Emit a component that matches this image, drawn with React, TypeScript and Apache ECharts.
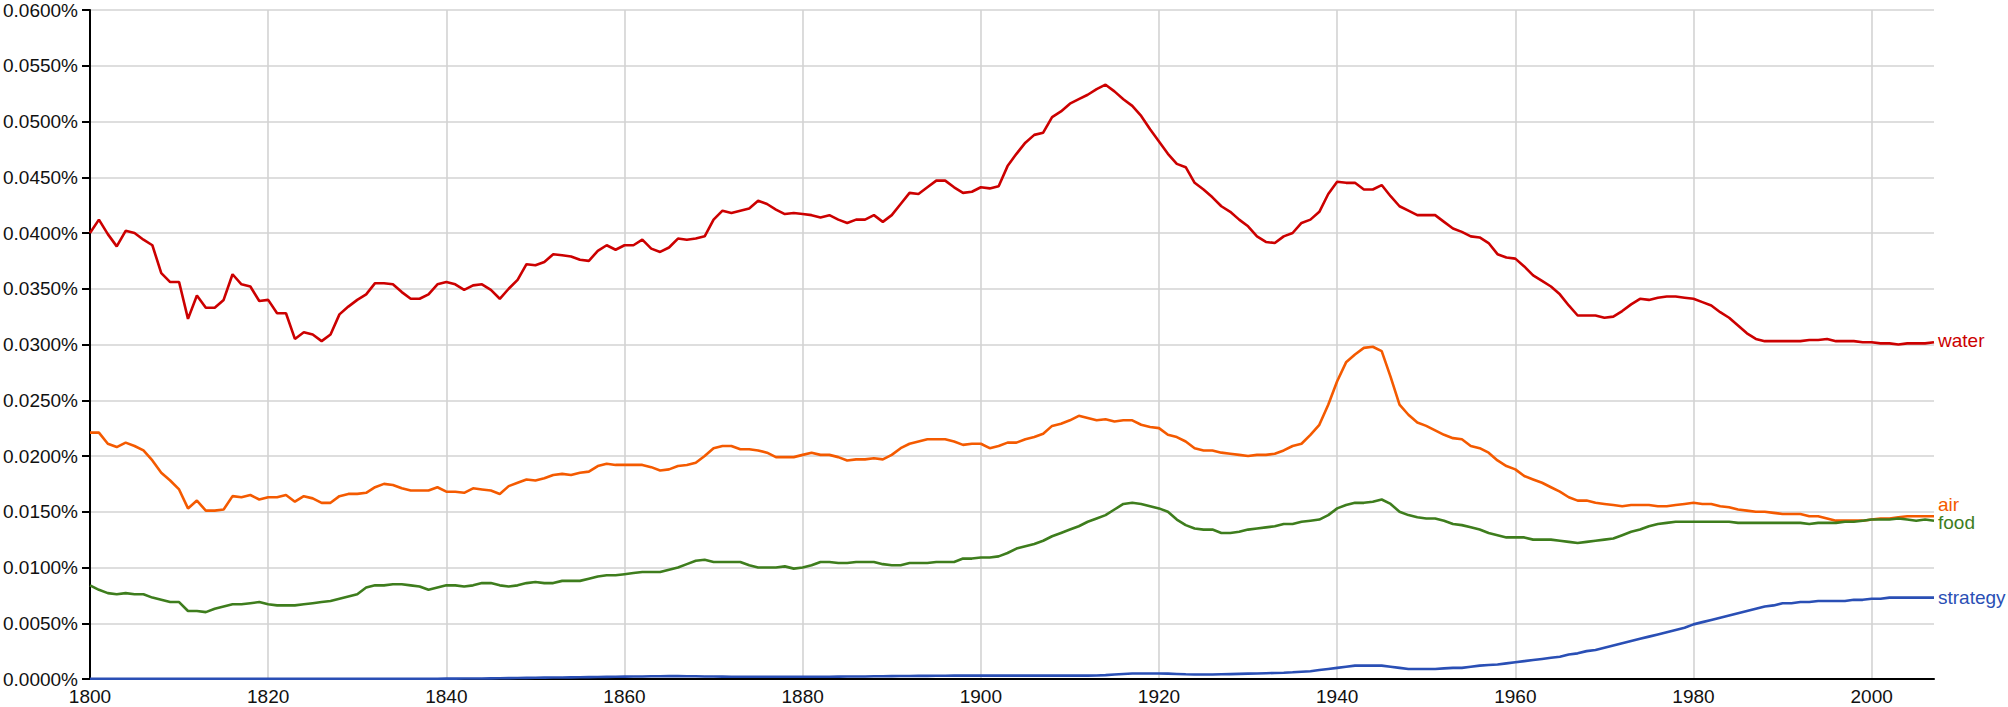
import React, { useEffect, useRef } from "react";
import * as echarts from "echarts";

const years: string[] = Array.from({ length: 208 }, (_, i) => String(1800 + i));

const water: number[] = [
  0.0400, 0.0412, 0.0399, 0.0388, 0.0402, 0.0400, 0.0394, 0.0389, 0.0364, 0.0356,
  0.0356, 0.0323, 0.0344, 0.0333, 0.0333, 0.0340, 0.0363, 0.0354, 0.0352, 0.0339,
  0.0340, 0.0328, 0.0328, 0.0305, 0.0311, 0.0309, 0.0303, 0.0309, 0.0327, 0.0334,
  0.0340, 0.0345, 0.0355, 0.0355, 0.0354, 0.0347, 0.0341, 0.0341, 0.0345, 0.0354,
  0.0356, 0.0354, 0.0349, 0.0353, 0.0354, 0.0349, 0.0341, 0.0350, 0.0358, 0.0372,
  0.0371, 0.0374, 0.0381, 0.0380, 0.0379, 0.0376, 0.0375, 0.0384, 0.0389, 0.0385,
  0.0389, 0.0389, 0.0394, 0.0386, 0.0383, 0.0387, 0.0395, 0.0394, 0.0395, 0.0397,
  0.0412, 0.0420, 0.0418, 0.0420, 0.0422, 0.0429, 0.0426, 0.0421, 0.0417, 0.0418,
  0.0417, 0.0416, 0.0414, 0.0416, 0.0412, 0.0409, 0.0412, 0.0412, 0.0416, 0.0410,
  0.0416, 0.0426, 0.0436, 0.0435, 0.0441, 0.0447, 0.0447, 0.0441, 0.0436, 0.0437,
  0.0441, 0.0440, 0.0442, 0.0460, 0.0471, 0.0481, 0.0488, 0.0490, 0.0504, 0.0509,
  0.0516, 0.0520, 0.0524, 0.0529, 0.0533, 0.0527, 0.0520, 0.0514, 0.0505, 0.0493,
  0.0482, 0.0471, 0.0462, 0.0459, 0.0445, 0.0439, 0.0432, 0.0424, 0.0419, 0.0412,
  0.0406, 0.0397, 0.0392, 0.0391, 0.0397, 0.0400, 0.0409, 0.0412, 0.0419, 0.0435,
  0.0446, 0.0445, 0.0445, 0.0439, 0.0439, 0.0443, 0.0433, 0.0424, 0.0420, 0.0416,
  0.0416, 0.0416, 0.0410, 0.0404, 0.0401, 0.0397, 0.0396, 0.0391, 0.0381, 0.0378,
  0.0377, 0.0370, 0.0362, 0.0357, 0.0352, 0.0345, 0.0335, 0.0326, 0.0326, 0.0326,
  0.0324, 0.0325, 0.0330, 0.0336, 0.0341, 0.0340, 0.0342, 0.0343, 0.0343, 0.0342,
  0.0341, 0.0338, 0.0335, 0.0329, 0.0324, 0.0317, 0.0310, 0.0305, 0.0303, 0.0303,
  0.0303, 0.0303, 0.0303, 0.0304, 0.0304, 0.0305, 0.0303, 0.0303, 0.0303, 0.0302,
  0.0302, 0.0301, 0.0301, 0.0300, 0.0301, 0.0301, 0.0301, 0.0302,
];

const air: number[] = [
  0.0221, 0.0221, 0.0211, 0.0208, 0.0212, 0.0209, 0.0205, 0.0196, 0.0185, 0.0178,
  0.0170, 0.0153, 0.0160, 0.0151, 0.0151, 0.0152, 0.0164, 0.0163, 0.0165, 0.0161,
  0.0163, 0.0163, 0.0165, 0.0159, 0.0164, 0.0162, 0.0158, 0.0158, 0.0164, 0.0166,
  0.0166, 0.0167, 0.0172, 0.0175, 0.0174, 0.0171, 0.0169, 0.0169, 0.0169, 0.0172,
  0.0168, 0.0168, 0.0167, 0.0171, 0.0170, 0.0169, 0.0166, 0.0173, 0.0176, 0.0179,
  0.0178, 0.0180, 0.0183, 0.0184, 0.0183, 0.0185, 0.0186, 0.0191, 0.0193, 0.0192,
  0.0192, 0.0192, 0.0192, 0.0190, 0.0187, 0.0188, 0.0191, 0.0192, 0.0194, 0.0200,
  0.0207, 0.0209, 0.0209, 0.0206, 0.0206, 0.0205, 0.0203, 0.0199, 0.0199, 0.0199,
  0.0201, 0.0203, 0.0201, 0.0201, 0.0199, 0.0196, 0.0197, 0.0197, 0.0198, 0.0197,
  0.0201, 0.0207, 0.0211, 0.0213, 0.0215, 0.0215, 0.0215, 0.0213, 0.0210, 0.0211,
  0.0211, 0.0207, 0.0209, 0.0212, 0.0212, 0.0215, 0.0217, 0.0220, 0.0227, 0.0229,
  0.0232, 0.0236, 0.0234, 0.0232, 0.0233, 0.0231, 0.0232, 0.0232, 0.0228, 0.0226,
  0.0225, 0.0219, 0.0217, 0.0213, 0.0207, 0.0205, 0.0205, 0.0203, 0.0202, 0.0201,
  0.0200, 0.0201, 0.0201, 0.0202, 0.0205, 0.0209, 0.0211, 0.0219, 0.0228, 0.0246,
  0.0267, 0.0284, 0.0291, 0.0297, 0.0298, 0.0294, 0.0271, 0.0246, 0.0237, 0.0230,
  0.0227, 0.0223, 0.0219, 0.0216, 0.0215, 0.0209, 0.0207, 0.0203, 0.0196, 0.0191,
  0.0188, 0.0182, 0.0179, 0.0176, 0.0172, 0.0168, 0.0163, 0.0160, 0.0160, 0.0158,
  0.0157, 0.0156, 0.0155, 0.0156, 0.0156, 0.0156, 0.0155, 0.0155, 0.0156, 0.0157,
  0.0158, 0.0157, 0.0157, 0.0155, 0.0154, 0.0152, 0.0151, 0.0150, 0.0150, 0.0149,
  0.0148, 0.0148, 0.0148, 0.0146, 0.0146, 0.0144, 0.0142, 0.0142, 0.0142, 0.0142,
  0.0143, 0.0144, 0.0144, 0.0145, 0.0146, 0.0146, 0.0146, 0.0146,
];

const food: number[] = [
  0.0084, 0.0080, 0.0077, 0.0076, 0.0077, 0.0076, 0.0076, 0.0073, 0.0071, 0.0069,
  0.0069, 0.0061, 0.0061, 0.0060, 0.0063, 0.0065, 0.0067, 0.0067, 0.0068, 0.0069,
  0.0067, 0.0066, 0.0066, 0.0066, 0.0067, 0.0068, 0.0069, 0.0070, 0.0072, 0.0074,
  0.0076, 0.0082, 0.0084, 0.0084, 0.0085, 0.0085, 0.0084, 0.0083, 0.0080, 0.0082,
  0.0084, 0.0084, 0.0083, 0.0084, 0.0086, 0.0086, 0.0084, 0.0083, 0.0084, 0.0086,
  0.0087, 0.0086, 0.0086, 0.0088, 0.0088, 0.0088, 0.0090, 0.0092, 0.0093, 0.0093,
  0.0094, 0.0095, 0.0096, 0.0096, 0.0096, 0.0098, 0.0100, 0.0103, 0.0106, 0.0107,
  0.0105, 0.0105, 0.0105, 0.0105, 0.0102, 0.0100, 0.0100, 0.0100, 0.0101, 0.0099,
  0.0100, 0.0102, 0.0105, 0.0105, 0.0104, 0.0104, 0.0105, 0.0105, 0.0105, 0.0103,
  0.0102, 0.0102, 0.0104, 0.0104, 0.0104, 0.0105, 0.0105, 0.0105, 0.0108, 0.0108,
  0.0109, 0.0109, 0.0110, 0.0113, 0.0117, 0.0119, 0.0121, 0.0124, 0.0128, 0.0131,
  0.0134, 0.0137, 0.0141, 0.0144, 0.0147, 0.0152, 0.0157, 0.0158, 0.0157, 0.0155,
  0.0153, 0.0150, 0.0143, 0.0138, 0.0135, 0.0134, 0.0134, 0.0131, 0.0131, 0.0132,
  0.0134, 0.0135, 0.0136, 0.0137, 0.0139, 0.0139, 0.0141, 0.0142, 0.0143, 0.0147,
  0.0153, 0.0156, 0.0158, 0.0158, 0.0159, 0.0161, 0.0157, 0.0150, 0.0147, 0.0145,
  0.0144, 0.0144, 0.0142, 0.0139, 0.0138, 0.0136, 0.0134, 0.0131, 0.0129, 0.0127,
  0.0127, 0.0127, 0.0125, 0.0125, 0.0125, 0.0124, 0.0123, 0.0122, 0.0123, 0.0124,
  0.0125, 0.0126, 0.0129, 0.0132, 0.0134, 0.0137, 0.0139, 0.0140, 0.0141, 0.0141,
  0.0141, 0.0141, 0.0141, 0.0141, 0.0141, 0.0140, 0.0140, 0.0140, 0.0140, 0.0140,
  0.0140, 0.0140, 0.0140, 0.0139, 0.0140, 0.0140, 0.0140, 0.0141, 0.0141, 0.0142,
  0.0143, 0.0143, 0.0143, 0.0144, 0.0143, 0.0142, 0.0143, 0.0142,
];

const strategy: number[] = [
  0.00002, 0.00002, 0.00002, 0.00002, 0.00002, 0.00002, 0.00002, 0.00002, 0.00002, 0.00002,
  0.00002, 0.00002, 0.00002, 0.00002, 0.00002, 0.00002, 0.00002, 0.00002, 0.00002, 0.00002,
  0.00002, 0.00002, 0.00002, 0.00002, 0.00002, 0.00002, 0.00002, 0.00002, 0.00002, 0.00002,
  0.00002, 0.00002, 0.00002, 0.00002, 0.00002, 0.00002, 0.00002, 0.00002, 0.00002, 0.00002,
  0.00003, 0.00003, 0.00004, 0.00004, 0.00005, 0.00006, 0.00007, 0.00008, 0.00009, 0.0001,
  0.00011, 0.00012, 0.00013, 0.00014, 0.00015, 0.00016, 0.00017, 0.00018, 0.00019, 0.0002,
  0.00021, 0.00022, 0.00023, 0.00024, 0.00025, 0.00026, 0.00026, 0.00025, 0.00024, 0.00023,
  0.00022, 0.00021, 0.0002, 0.0002, 0.0002, 0.0002, 0.0002, 0.0002, 0.0002, 0.0002,
  0.0002, 0.0002, 0.0002, 0.0002, 0.00021, 0.00022, 0.00022, 0.00023, 0.00024, 0.00025,
  0.00026, 0.00027, 0.00027, 0.00028, 0.00028, 0.00029, 0.00029, 0.0003, 0.0003, 0.0003,
  0.0003, 0.0003, 0.0003, 0.0003, 0.0003, 0.0003, 0.0003, 0.0003, 0.0003, 0.0003,
  0.0003, 0.0003, 0.0003, 0.00032, 0.00035, 0.0004, 0.00045, 0.0005, 0.0005, 0.0005,
  0.0005, 0.00048, 0.00045, 0.00042, 0.0004, 0.0004, 0.0004, 0.00042, 0.00044, 0.00046,
  0.00048, 0.0005, 0.00052, 0.00054, 0.00056, 0.0006, 0.00065, 0.0007, 0.0008, 0.0009,
  0.001, 0.0011, 0.0012, 0.0012, 0.0012, 0.0012, 0.0011, 0.001, 0.0009, 0.0009,
  0.0009, 0.0009, 0.00095, 0.001, 0.001, 0.0011, 0.0012, 0.00125, 0.0013, 0.0014,
  0.0015, 0.0016, 0.0017, 0.0018, 0.0019, 0.002, 0.0022, 0.0023, 0.0025, 0.0026,
  0.0028, 0.003, 0.0032, 0.0034, 0.0036, 0.0038, 0.004, 0.0042, 0.0044, 0.0046,
  0.0049, 0.0051, 0.0053, 0.0055, 0.0057, 0.0059, 0.0061, 0.0063, 0.0065, 0.0066,
  0.0068, 0.0068, 0.0069, 0.0069, 0.0070, 0.0070, 0.0070, 0.0070, 0.0071, 0.0071,
  0.0072, 0.0072, 0.0073, 0.0073, 0.0073, 0.0073, 0.0073, 0.0073,
];

const seriesNames = ["water", "air", "food", "strategy"];
const seriesColors = ["#cc0000", "#f45a00", "#3e7d1d", "#2a4fb5"];
const seriesData = [water, air, food, strategy];
const labelOffsets: [number, number][] = [[0, -2], [0, -12], [0, 2], [0, 0]];

const FONT = "'Liberation Sans', Arial, Helvetica, sans-serif";

export default function App() {
  const ref = useRef<HTMLDivElement>(null);
  useEffect(() => {
    if (!ref.current) return;
    const chart = echarts.init(ref.current, null, { renderer: "svg" });
    chart.setOption({
      animation: false,
      backgroundColor: "#ffffff",
      grid: { left: 89, right: 74, top: 10, bottom: 28, containLabel: false },
      xAxis: {
        type: "category",
        data: years,
        boundaryGap: false,
        axisLine: { show: true, lineStyle: { color: "#000", width: 2 } },
        axisTick: { show: false },
        axisLabel: {
          interval: (idx: number) => idx % 20 === 0,
          fontSize: 19,
          fontFamily: FONT,
          color: "#111",
          margin: 8,
        },
        splitLine: {
          show: true,
          interval: (idx: number) => idx % 20 === 0,
          lineStyle: { color: "#d3d3d3", width: 1.6 },
        },
      },
      yAxis: {
        type: "value",
        min: 0,
        max: 0.06,
        interval: 0.005,
        axisLine: { show: true, lineStyle: { color: "#000", width: 2 } },
        axisTick: { show: true, length: 8, lineStyle: { color: "#000", width: 2 } },
        axisLabel: {
          formatter: (v: number) => v.toFixed(4) + "%",
          fontSize: 19,
          fontFamily: FONT,
          color: "#111",
          margin: 12,
        },
        splitLine: { show: true, lineStyle: { color: "#d3d3d3", width: 1.6 } },
      },
      series: seriesNames.map((name, i) => ({
        name,
        type: "line",
        data: seriesData[i],
        showSymbol: false,
        symbol: "none",
        smooth: false,
        lineStyle: { color: seriesColors[i], width: 2.6 },
        itemStyle: { color: seriesColors[i] },
        endLabel: {
          show: true,
          formatter: name,
          color: seriesColors[i],
          fontSize: 19,
          fontFamily: FONT,
          distance: 4,
          offset: labelOffsets[i],
        },
      })),
    });
    return () => chart.dispose();
  }, []);
  return (
    <div
      ref={ref}
      style={{ position: "fixed", left: 0, top: 0, width: "2008px", height: "707px" }}
    />
  );
}
